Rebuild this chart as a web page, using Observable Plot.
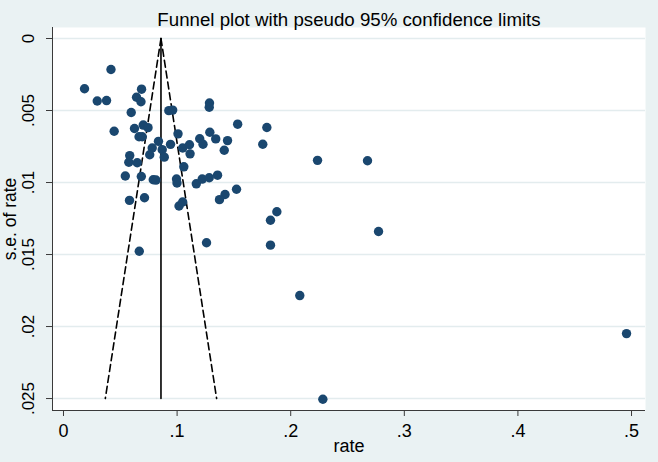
<!DOCTYPE html>
<html>
<head>
<meta charset="utf-8">
<script src="https://cdn.jsdelivr.net/npm/d3@7"></script>
<script src="https://cdn.jsdelivr.net/npm/@observablehq/plot@0.6"></script>
<style>
  html, body { margin: 0; padding: 0; background: #EAF2F3; }
  #chart svg { display: block; }
</style>
</head>
<body>
<div id="chart"></div>
<script>
// Study-level rates and their standard errors
const rate = [
  0.0185, 0.0418, 0.0297, 0.0379, 0.0687, 0.0643, 0.0682, 0.0596, 0.0927, 0.0961,
  0.1285, 0.1283, 0.1533, 0.1790, 0.1754, 0.0446, 0.0625, 0.0702, 0.0744, 0.0665,
  0.0693, 0.0836, 0.1008, 0.1288, 0.0781, 0.0759, 0.0869, 0.0887, 0.0942, 0.1049,
  0.1109, 0.1114, 0.1199, 0.1228, 0.1340, 0.1444, 0.1415, 0.0583, 0.0575, 0.0649,
  0.1059, 0.0544, 0.0685, 0.0790, 0.0814, 0.0995, 0.0999, 0.1169, 0.1221, 0.1283,
  0.1356, 0.1523, 0.1422, 0.1373, 0.0581, 0.0713, 0.1017, 0.1049, 0.2236, 0.2676,
  0.1878, 0.1822, 0.2773, 0.1259, 0.1822, 0.0667, 0.2080, 0.2283, 0.4956
];
const seRate = [
  0.00349, 0.00215, 0.00434, 0.00431, 0.00352, 0.00408, 0.00439, 0.00514, 0.00501, 0.00497,
  0.00448, 0.00477, 0.00595, 0.00618, 0.00734, 0.00644, 0.00625, 0.00601, 0.00619, 0.00682,
  0.00682, 0.00714, 0.00662, 0.00651, 0.00760, 0.00807, 0.00772, 0.00824, 0.00735, 0.00760,
  0.00738, 0.00801, 0.00696, 0.00734, 0.00697, 0.00709, 0.00776, 0.00813, 0.00859, 0.00863,
  0.00891, 0.00955, 0.00958, 0.00981, 0.00983, 0.00976, 0.01003, 0.01009, 0.00976, 0.00967,
  0.00949, 0.01047, 0.01083, 0.01119, 0.01124, 0.01106, 0.01163, 0.01135, 0.00846, 0.00849,
  0.01203, 0.01262, 0.01340, 0.01418, 0.01435, 0.01477, 0.01785, 0.02505, 0.02049
];

// Pooled estimate and funnel (pseudo 95% limits) endpoints
const pooledRate = 0.0858;
const funnelSE = [0, 0.025];
const funnelLeftRate = [0.0858, 0.0368];
const funnelRightRate = [0.0858, 0.1348];

// Axis ticks
const xTicks = [0, 0.1, 0.2, 0.3, 0.4, 0.5];
const yTicks = [0, 0.005, 0.01, 0.015, 0.02, 0.025];

const fmt = d => d === 0 ? "0" : String(d).replace(/^0/, "");

const points = rate.map((r, i) => ({rate: r, se: seRate[i]}));
const left = funnelSE.map((s, i) => ({rate: funnelLeftRate[i], se: s}));
const right = funnelSE.map((s, i) => ({rate: funnelRightRate[i], se: s}));
const pooled = funnelSE.map(s => ({rate: pooledRate, se: s}));

const xDom = [-0.00968, 0.5123];
const yDom = [-0.000764, 0.02583];
const font = "'Liberation Sans', Arial, Helvetica, sans-serif";
const axisColor = "#3a3a3a";

const chart = Plot.plot({
  width: 658,
  height: 462,
  marginLeft: 52,
  marginRight: 13,
  marginTop: 27,
  marginBottom: 52,
  style: {background: "#EAF2F3", fontFamily: font, color: "#000", overflow: "visible"},
  x: {type: "linear", domain: xDom, axis: null},
  y: {type: "linear", domain: yDom, reverse: true, axis: null},
  marks: [
    Plot.frame({fill: "white", stroke: null}),
    Plot.gridY(yTicks, {stroke: "#E3ECEE", strokeOpacity: 1, strokeWidth: 1.5}),
    // axis lines
    Plot.ruleX([xDom[0]], {stroke: axisColor, strokeWidth: 1}),
    Plot.ruleY([yDom[1]], {stroke: axisColor, strokeWidth: 1}),
    // ticks and labels
    Plot.axisX(xTicks, {tickSize: 6, tickPadding: 8, tickFormat: fmt, fontSize: 18, label: null, stroke: axisColor}),
    Plot.axisY(yTicks, {tickSize: 6, tickFormat: () => "", label: null, stroke: axisColor}),
    Plot.text(yTicks, {y: d => d, text: fmt, frameAnchor: "left", dx: -24, rotate: -90, textAnchor: "middle", fontSize: 17, fill: "#000"}),
    // axis titles
    Plot.text(["s.e. of rate"], {frameAnchor: "left", dx: -42, rotate: -90, textAnchor: "middle", fontSize: 17.5, fill: "#000"}),
    Plot.text(["rate"], {frameAnchor: "bottom", dy: 41, textAnchor: "middle", fontSize: 18, fill: "#000"}),
    Plot.text(["Funnel plot with pseudo 95% confidence limits"], {frameAnchor: "top", dy: -15, textAnchor: "middle", fontSize: 18.7, fill: "#000"}),
    // funnel
    Plot.line(pooled, {x: "rate", y: "se", stroke: "#000", strokeWidth: 1.6}),
    Plot.line(left, {x: "rate", y: "se", stroke: "#000", strokeWidth: 1.6, strokeDasharray: "7,4"}),
    Plot.line(right, {x: "rate", y: "se", stroke: "#000", strokeWidth: 1.6, strokeDasharray: "7,4"}),
    // studies
    Plot.dot(points, {x: "rate", y: "se", r: 4.7, fill: "#1A476F", stroke: null})
  ]
});

document.getElementById("chart").append(chart);
</script>
</body>
</html>
